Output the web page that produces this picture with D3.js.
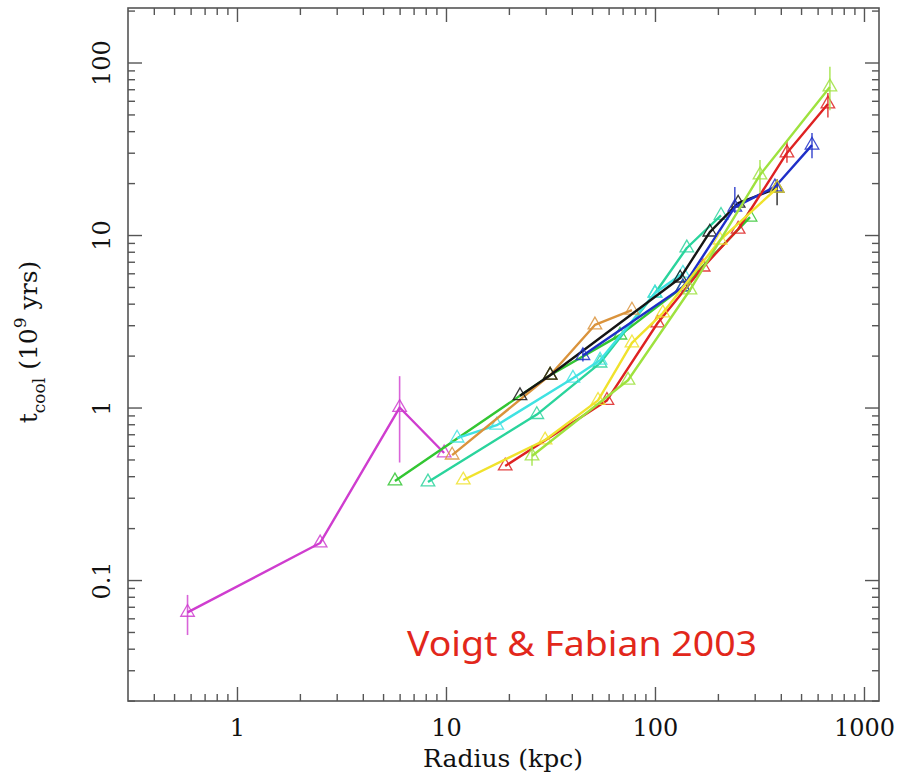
<!DOCTYPE html>
<html>
<head>
<meta charset="utf-8">
<script src="https://cdn.jsdelivr.net/npm/d3@7"></script>
<style>
  body { margin: 0; background: #fff; }
</style>
</head>
<body>
<div id="chart"></div>
<script>
const width = 907;
const height = 781;
const marginTop = 8;
const marginRight = 28;
const marginBottom = 80;
const marginLeft = 128;

// one entry per cluster, radius in kpc, cooling time in Gyr
const seriesNames = ["magenta", "green", "teal", "cyan", "orange", "black", "blue", "red", "yellow", "lightgreen"];
const seriesColors = ["#cf3dcf", "#33c633", "#2ad49c", "#3fe2e2", "#da933c", "#151515", "#1f2fc8", "#de2222", "#f0e22c", "#9ee23e"];

const radius = [
    [0.58, 2.5, 6.0, 9.8],
    [5.7, 31.5, 68, 136, 285],
    [8.2, 27.2, 54.6, 100, 142, 207],
    [11.3, 17.5, 40.5, 54.6, 100, 136],
    [10.7, 31.5, 51.6, 77.6],
    [22.6, 31.5, 132, 183, 250, 384],
    [45.2, 136, 241, 375, 564],
    [19.2, 58.9, 103, 170, 250, 428, 672],
    [12.1, 29.8, 53.4, 77.6, 109, 205, 384],
    [25.8, 74.3, 147, 318, 687]
];
const tcool = [
    [0.065, 0.164, 1.0, 0.545],
    [0.375, 1.54, 2.63, 5.0, 12.7],
    [0.37, 0.91, 1.81, 4.6, 8.41, 13.0],
    [0.665, 0.79, 1.48, 1.88, 4.61, 6.0],
    [0.53, 1.54, 3.01, 3.67],
    [1.17, 1.54, 5.63, 10.4, 15.3, 18.7],
    [2.0, 5.0, 14.5, 19.0, 33.2],
    [0.458, 1.10, 3.09, 6.52, 10.8, 29.9, 57.5],
    [0.38, 0.648, 1.10, 2.37, 3.53, 9.35, 18.7],
    [0.524, 1.44, 4.8, 22.3, 72.1]
];
// error bars: [series index, point index, low, high]
const errorBars = [
    [0, 0, 0.048, 0.082],
    [0, 2, 0.48, 1.52],
    [6, 0, 1.85, 2.2],
    [6, 2, 13.4, 19.0],
    [6, 4, 27.9, 39.0],
    [5, 5, 14.9, 21.0],
    [7, 5, 26.2, 35.5],
    [7, 6, 48, 66.5],
    [9, 0, 0.46, 0.6],
    [9, 3, 17.5, 27.2],
    [9, 4, 52.8, 94.6]
];

const xMajor = [1, 10, 100, 1000];
const yMajor = [0.1, 1, 10, 100];

const svg = d3.select("#chart")
    .append("svg")
    .attr("width", width)
    .attr("height", height)
    .attr("viewBox", [0, 0, width, height])
    .attr("style", "font-family: 'DejaVu Serif', serif;");

const x = d3.scaleLog()
    .domain([0.301, 1180])
    .range([marginLeft, width - marginRight]);

const y = d3.scaleLog()
    .domain([0.0199, 207])
    .range([height - marginBottom, marginTop]);

// minor ticks: 2..9 times each decade, inside the domain
const minorTicks = (scale) => {
    const [lo, hi] = scale.domain();
    const out = [];
    for (let e = Math.floor(Math.log10(lo)); e <= Math.ceil(Math.log10(hi)); e++) {
        for (let m = 2; m <= 9; m++) {
            const v = m * Math.pow(10, e);
            if (v >= lo && v <= hi) out.push(v);
        }
    }
    return out;
};

const axisColor = "#555";
const styleAxis = g => {
    g.select(".domain").remove();
    g.selectAll("line").attr("stroke", axisColor).attr("stroke-width", 1.4);
};

const bottomY = height - marginBottom;
const rightX = width - marginRight;

// frame
svg.append("rect")
    .attr("x", marginLeft)
    .attr("y", marginTop)
    .attr("width", rightX - marginLeft)
    .attr("height", bottomY - marginTop)
    .attr("fill", "none")
    .attr("stroke", axisColor)
    .attr("stroke-width", 1.6);

// bottom and top ticks
svg.append("g").attr("transform", `translate(0,${bottomY})`)
    .call(d3.axisBottom(x).tickValues(minorTicks(x)).tickSize(-7).tickFormat(""))
    .call(styleAxis);
svg.append("g").attr("transform", `translate(0,${bottomY})`)
    .call(d3.axisBottom(x).tickValues(xMajor).tickSize(-14).tickFormat(d3.format("d")))
    .call(styleAxis)
    .call(g => g.selectAll("text")
        .attr("y", 35).attr("dy", 0)
        .attr("fill", "#111")
        .attr("font-size", 24)
        .attr("font-family", "'DejaVu Serif', serif"));
svg.append("g").attr("transform", `translate(0,${marginTop})`)
    .call(d3.axisTop(x).tickValues(minorTicks(x)).tickSize(-7).tickFormat(""))
    .call(styleAxis);
svg.append("g").attr("transform", `translate(0,${marginTop})`)
    .call(d3.axisTop(x).tickValues(xMajor).tickSize(-14).tickFormat(""))
    .call(styleAxis);

// left and right ticks
svg.append("g").attr("transform", `translate(${marginLeft},0)`)
    .call(d3.axisLeft(y).tickValues(minorTicks(y)).tickSize(-7).tickFormat(""))
    .call(styleAxis);
svg.append("g").attr("transform", `translate(${marginLeft},0)`)
    .call(d3.axisLeft(y).tickValues(yMajor).tickSize(-14).tickFormat(d => d < 1 ? d3.format(".1f")(d) : d3.format("d")(d)))
    .call(styleAxis)
    .call(g => g.selectAll("text")
        .attr("transform", "rotate(-90)")
        .attr("x", 0).attr("y", -18).attr("dy", 0)
        .attr("text-anchor", "middle")
        .attr("fill", "#111")
        .attr("font-size", 24)
        .attr("font-family", "'DejaVu Serif', serif"));
svg.append("g").attr("transform", `translate(${rightX},0)`)
    .call(d3.axisRight(y).tickValues(minorTicks(y)).tickSize(-7).tickFormat(""))
    .call(styleAxis);
svg.append("g").attr("transform", `translate(${rightX},0)`)
    .call(d3.axisRight(y).tickValues(yMajor).tickSize(-14).tickFormat(""))
    .call(styleAxis);

// axis titles
svg.append("text")
    .attr("x", 503)
    .attr("y", 767)
    .attr("text-anchor", "middle")
    .attr("font-size", 25)
    .attr("fill", "#111")
    .text("Radius (kpc)");

const yTitle = svg.append("text")
    .attr("transform", "translate(37,342) rotate(-90)")
    .attr("text-anchor", "middle")
    .attr("font-size", 25)
    .attr("fill", "#111");
yTitle.append("tspan").text("t");
yTitle.append("tspan").attr("font-size", 17).attr("dy", 8).text("cool");
yTitle.append("tspan").attr("dy", -8).text(" (10");
yTitle.append("tspan").attr("font-size", 17).attr("dy", -11).text("9");
yTitle.append("tspan").attr("dy", 11).text(" yrs)");

// data
const plot = svg.append("g");
const line = d3.line().x(d => x(d[0])).y(d => y(d[1]));
const triangle = d3.symbol().type(d3.symbolTriangle).size(80);

seriesNames.forEach((name, i) => {
    const pts = radius[i].map((r, j) => [r, tcool[i][j]]);
    const g = plot.append("g").attr("class", name);

    errorBars.filter(e => e[0] === i).forEach(e => {
        const r = radius[i][e[1]];
        g.append("line")
            .attr("x1", x(r)).attr("x2", x(r))
            .attr("y1", y(e[2])).attr("y2", y(e[3]))
            .attr("stroke", seriesColors[i])
            .attr("stroke-opacity", 0.8)
            .attr("stroke-width", 1.6);
    });

    g.append("path")
        .datum(pts)
        .attr("d", line)
        .attr("fill", "none")
        .attr("stroke", seriesColors[i])
        .attr("stroke-width", 2.4)
        .attr("stroke-linejoin", "round");

    g.selectAll("path.mark")
        .data(pts)
        .join("path")
        .attr("class", "mark")
        .attr("transform", d => `translate(${x(d[0])},${y(d[1])})`)
        .attr("d", triangle)
        .attr("fill", "none")
        .attr("stroke", seriesColors[i])
        .attr("stroke-opacity", 0.85)
        .attr("stroke-width", 1.3);
});

// citation
svg.append("text")
    .attr("x", 407)
    .attr("y", 656)
    .attr("font-family", "'Comic Sans MS', 'Noto Sans', sans-serif")
    .attr("font-size", 34)
    .attr("fill", "#e2271b")
    .attr("textLength", 350)
    .attr("lengthAdjust", "spacingAndGlyphs")
    .text("Voigt & Fabian 2003");
</script>
</body>
</html>
